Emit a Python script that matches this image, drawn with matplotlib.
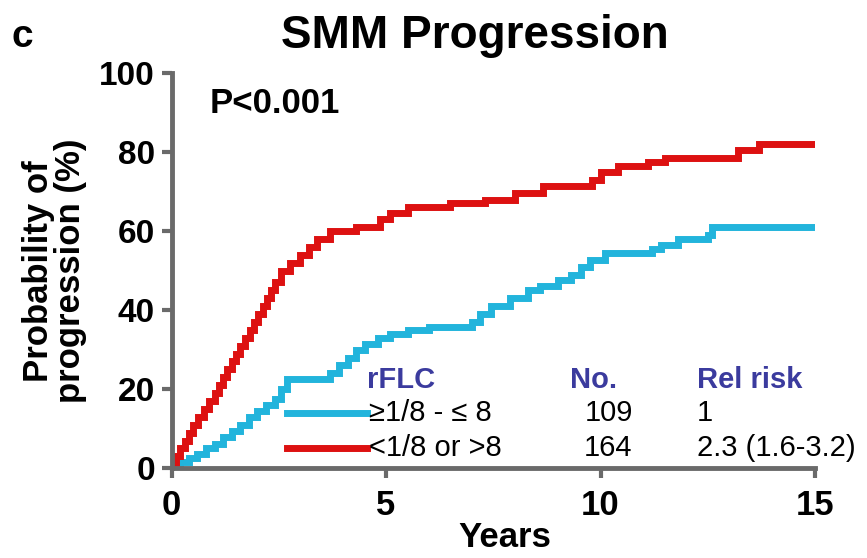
import matplotlib
matplotlib.use('Agg')
import matplotlib.pyplot as plt

plt.rcParams['font.family'] = ['Liberation Sans', 'DejaVu Sans']

# step points (years, % progressed)
red_t = [0, 0.1, 0.2, 0.3, 0.4, 0.5, 0.62, 0.75, 0.88, 1.0, 1.1, 1.2, 1.3, 1.4, 1.5, 1.6, 1.7,
         1.82, 1.92, 2.02, 2.12, 2.22, 2.32, 2.42, 2.55, 2.75, 3.0, 3.2, 3.4, 3.7, 4.3, 4.85,
         5.1, 5.5, 6.5, 7.3, 8.0, 8.65, 9.8, 10.0, 10.4, 11.1, 11.5, 13.2, 13.7, 15]
red_y = [0, 3, 5, 7, 9, 11, 13, 15, 17, 19, 21, 23, 25, 27, 29, 31, 33,
         35, 37, 39, 41, 43, 45, 47, 50, 52, 54, 56, 58, 60, 61, 63,
         64.5, 66, 67, 68, 69.6, 71.5, 73, 75, 76.5, 77.5, 78.5, 80.5, 82, 82]

blue_t = [0, 0.2, 0.4, 0.6, 0.8, 1.0, 1.2, 1.4, 1.6, 1.8, 2.0, 2.2, 2.4, 2.55, 2.7, 3.7, 3.9,
          4.1, 4.3, 4.5, 4.8, 5.1, 5.5, 6.0, 7.0, 7.2, 7.45, 7.9, 8.3, 8.6, 9.0, 9.3, 9.55,
          9.75, 10.1, 11.2, 11.4, 11.8, 12.5, 12.6, 15]
blue_y = [0, 1.5, 2.5, 3.5, 5, 6, 8, 9.5, 11, 13, 14.5, 16, 17.5, 20, 22.5, 24, 26,
          28, 30, 31.5, 33, 34, 35, 35.7, 37, 39, 41, 43, 45, 46, 47.6, 49, 51,
          52.6, 54.4, 55.5, 56.5, 58, 59, 61, 61]

groups = ['\u22651/8 - \u2264 8', '<1/8 or >8']
counts = ['109', '164']
rel_risk = ['1', '2.3 (1.6-3.2)']
colors = ['#22b4dc', '#dd1111']

x_ticks = [0, 5, 10, 15]
y_ticks = [0, 20, 40, 60, 80, 100]

fig = plt.figure(figsize=(8.67, 5.58), dpi=100)
ax = fig.add_axes([0.198, 0.161, 0.742, 0.708])

ax.step(blue_t, blue_y, where='post', color=colors[0], lw=5, solid_joinstyle='miter')
ax.step(red_t, red_y, where='post', color=colors[1], lw=5, solid_joinstyle='miter')

ax.set_xlim(0, 15)
ax.set_ylim(0, 100)
ax.set_xticks(x_ticks)
ax.set_yticks(y_ticks)
for s in ['top', 'right']:
    ax.spines[s].set_visible(False)
for s in ['left', 'bottom']:
    ax.spines[s].set_color('#6a6a6a')
    ax.spines[s].set_linewidth(3.5)
ax.tick_params(length=7, width=3, color='#6a6a6a', labelsize=24)
ax.tick_params(axis='x', labelsize=25, pad=8)
ax.tick_params(axis='y', pad=5)
for lab in ax.get_xticklabels() + ax.get_yticklabels():
    lab.set_fontweight('bold')

ax.set_xlabel('Years', fontsize=25, fontweight='bold')
ax.xaxis.set_label_coords(0.518, -0.135)
ax.set_ylabel('Probability of\nprogression (%)', fontsize=25, fontweight='bold',
              linespacing=0.95, labelpad=9)

fig.text(0.013, 0.933, 'c', fontsize=28, fontweight='bold', va='center')
fig.text(0.548, 0.935, 'SMM Progression', fontsize=33, fontweight='bold',
         ha='center', va='center')
ax.text(0.88, 92.4, 'P<0.001', fontsize=25, fontweight='bold', va='center')

# legend table
hdr = '#3b3b9e'
ax.text(4.55, 22.3, 'rFLC', fontsize=21, fontweight='bold', color=hdr, va='center')
ax.text(9.28, 22.3, 'No.', fontsize=21, fontweight='bold', color=hdr, va='center')
ax.text(12.24, 22.3, 'Rel risk', fontsize=21, fontweight='bold', color=hdr, va='center')
rows_y = [13.9, 5.2]
for i in range(2):
    ax.plot([2.68, 4.55], [rows_y[i], rows_y[i]], color=colors[i], lw=5)
    ax.text(4.6, rows_y[i], groups[i], fontsize=21, va='center')
    ax.text(10.75, rows_y[i], counts[i], fontsize=21, va='center', ha='right')
    ax.text(12.24, rows_y[i], rel_risk[i], fontsize=21, va='center')

fig.savefig('out.png', dpi=100)
